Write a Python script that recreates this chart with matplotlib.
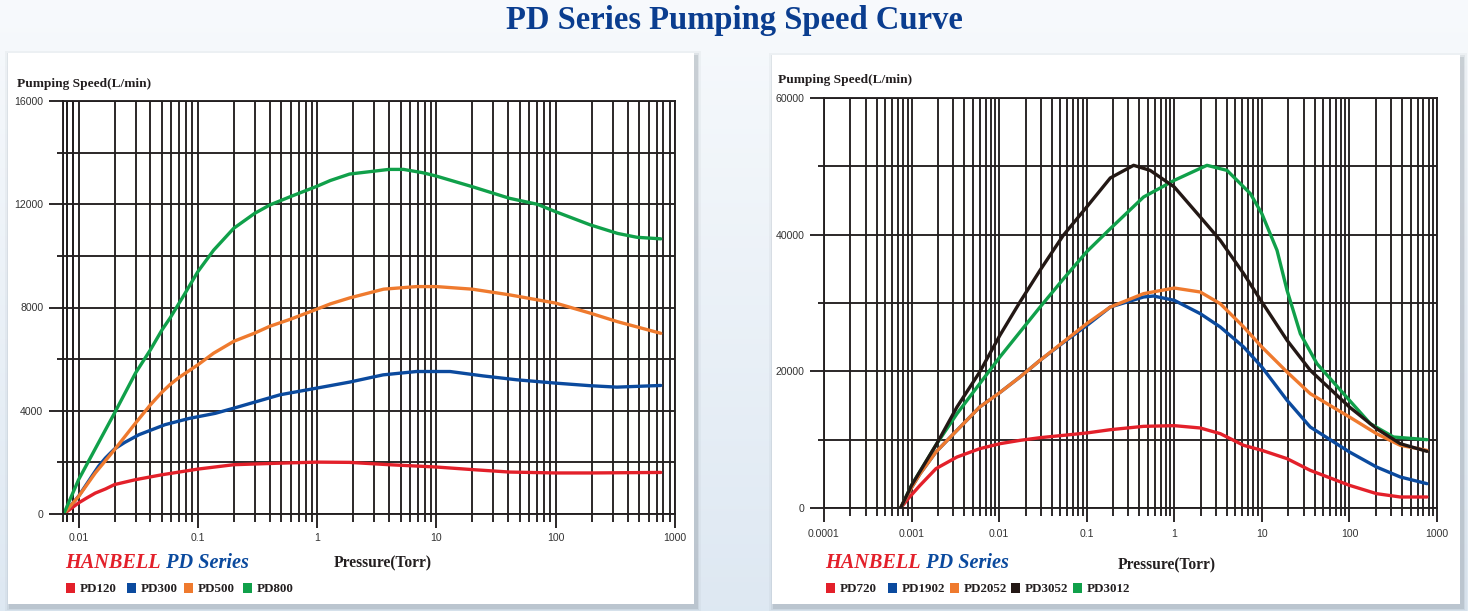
import numpy as np
import matplotlib.pyplot as plt
from matplotlib.patches import Rectangle

# ---------------- data ----------------
# left chart (PD120 / PD300 / PD500 / PD800), pressure in Torr, speed in L/min
pd120_p = [0.0075, 0.01, 0.0117, 0.0138, 0.0168, 0.02, 0.03, 0.05, 0.1, 0.2, 0.49, 1, 1.87, 4, 10, 20, 41,
           100, 195, 760]
pd120_v = [0, 430, 620, 810, 970, 1140, 1330, 1520, 1740, 1910, 1970, 2010, 2000, 1910, 1820, 1720, 1625,
           1590, 1590, 1610]

pd300_p = [0.0075, 0.01, 0.0129, 0.0147, 0.0168, 0.02, 0.0243, 0.032, 0.053, 0.084, 0.14, 0.2, 0.49, 1, 1.87,
           3.57, 6.8, 13, 24.6, 47, 100, 195, 326, 760]
pd300_v = [0, 690, 1460, 1850, 2170, 2520, 2770, 3070, 3460, 3700, 3900, 4100, 4620, 4880, 5110,
           5390, 5520, 5520, 5350, 5200, 5070, 4970, 4915, 4980]

pd500_p = [0.0075, 0.01, 0.0138, 0.02, 0.03, 0.04, 0.05, 0.0586, 0.07, 0.1, 0.1355, 0.2, 0.3, 0.4, 0.6, 1,
           1.29, 1.87, 3.6, 6.8, 10, 20, 41, 100, 195, 330, 760]
pd500_v = [0, 680, 1590, 2490, 3520, 4230, 4720, 5020, 5300, 5780, 6230, 6690, 7010, 7270, 7550, 7940,
           8140, 8370, 8710, 8810, 8810, 8710, 8490, 8170, 7780, 7450, 7000]

pd800_p = [0.0075, 0.01, 0.02, 0.03, 0.04, 0.05, 0.0586, 0.0758, 0.1, 0.1355, 0.2, 0.3, 0.4, 0.6, 1, 1.29,
           1.87, 4, 5.3, 7.7, 10, 20, 41, 70, 100, 195, 330, 480, 760]
pd800_v = [0, 1330, 3910, 5460, 6360, 7130, 7600, 8450, 9390, 10220, 11070, 11650, 11970, 12300, 12700,
           12920, 13170, 13350, 13350, 13220, 13090, 12680, 12230, 12000, 11710, 11200, 10870, 10720, 10660]

# right chart (PD720 / PD1902 / PD2052 / PD3052 / PD3012)
pd720_p = [0.00075, 0.00095, 0.00125, 0.0019, 0.0033, 0.006, 0.0102, 0.0173, 0.0293, 0.054, 0.1, 0.186,
           0.446, 1, 1.98, 3.35, 6.2, 10, 19.4, 35.7, 100, 204, 381, 768]
pd720_v = [0, 1610, 3320, 5760, 7460, 8680, 9410, 9900, 10290, 10630, 10980, 11460,
           11950, 12050, 11710, 10880, 9170, 8440, 7220, 5510, 3320, 2100, 1610, 1610]

pd1902_p = [0.00075, 0.001, 0.00125, 0.0019, 0.0033, 0.006, 0.0102, 0.0173, 0.0293, 0.054, 0.1, 0.186,
            0.446, 0.58, 1, 1.98, 3.35, 6.2, 10, 19.4, 35.7, 100, 204, 381, 768]
pd1902_v = [0, 3000, 5020, 8200, 11370, 14780, 16900, 19170, 21610, 24200, 26700, 29410,
            30880, 31020, 30390, 28440, 26490, 23560, 20630, 15760, 11850, 8200, 6000, 4540, 3560]

pd2052_p = [0.00075, 0.001, 0.00125, 0.0019, 0.0033, 0.006, 0.0102, 0.0173, 0.0293, 0.054, 0.1, 0.186,
            0.446, 1, 1.98, 3.35, 6.2, 10, 19.4, 35.7, 100, 204, 381, 768]
pd2052_v = [0, 3000, 5020, 8200, 11370, 14780, 16900, 19170, 21610, 24290, 26980, 29410,
            31370, 32190, 31610, 29900, 26490, 23560, 19900, 16730, 13320, 10880, 9170, 8440]

pd3052_p = [0.00075, 0.001, 0.00194, 0.0033, 0.006, 0.0102, 0.0173, 0.0293, 0.054, 0.1, 0.186, 0.343,
            0.53, 1, 1.98, 3.35, 6.2, 10, 19.4, 35.7, 100, 204, 381, 768]
pd3052_v = [0, 3320, 9410, 14780, 19900, 25270, 30150, 34780, 39900, 44050, 48300, 50150,
            49410, 46980, 42590, 39170, 34290, 30150, 24540, 20150, 14780, 11610, 9410, 8290]

pd3012_p = [0.00075, 0.001, 0.00194, 0.0033, 0.006, 0.0102, 0.0173, 0.0293, 0.054, 0.1, 0.186, 0.446,
            1, 2.36, 4.0, 7.4, 10, 14.9, 19.4, 27.5, 42.6, 100, 173, 318, 768]
pd3012_v = [0, 3320, 9410, 13800, 18200, 22100, 25760, 29400, 33500, 37500, 40880, 45510,
            47950, 50150, 49410, 46000, 43070, 37710, 31850, 25510, 21120, 15760, 12340, 10390, 10000]

left_names = ["PD120", "PD300", "PD500", "PD800"]
right_names = ["PD720", "PD1902", "PD2052", "PD3052", "PD3012"]

left_xticks = [0.01, 0.1, 1, 10, 100, 1000]
left_xlabels = ["0.01", "0.1", "1", "10", "100", "1000"]
right_xticks = [0.0001, 0.001, 0.01, 0.1, 1, 10, 100, 1000]
right_xlabels = ["0.0001", "0.001", "0.01", "0.1", "1", "10", "100", "1000"]
left_yticks = [0, 4000, 8000, 12000, 16000]
right_yticks = [0, 20000, 40000, 60000]

# ---------------- styling ----------------
RED = "#e3202a"
BLUE = "#0b4a9e"
ORANGE = "#ef7a2e"
GREEN = "#10a04a"
BLACK = "#231815"
GRID = "#231f20"
TITLE_BLUE = "#0a3d8f"
SERIF = "Liberation Serif"
SANS = "Liberation Sans"

W, H = 1468, 611
fig = plt.figure(figsize=(W / 100, H / 100), dpi=100)

# background (pixel coordinates, y downwards)
bg = fig.add_axes([0, 0, 1, 1])
grad = np.linspace(0, 1, 256).reshape(-1, 1)
c_top = np.array([0.97, 0.98, 0.99])
c_bot = np.array([0.87, 0.91, 0.95])
img = c_top + grad[..., None] * (c_bot - c_top)
img = np.repeat(img, 2, axis=1)
bg.imshow(img, extent=[0, W, H, 0], aspect="auto")
bg.set_xlim(0, W)
bg.set_ylim(H, 0)
bg.axis("off")

for (x0, y0, x1, y1) in [(8, 53, 694, 604), (772, 55, 1460, 604)]:
    for off, a in [(5, 0.08), (3, 0.14), (1.5, 0.25)]:
        bg.add_patch(Rectangle((x0 - off + 2, y0 - off + 3), x1 - x0 + 2 * off, y1 - y0 + 2 * off,
                               color="#8a949e", alpha=a, lw=0))
    bg.add_patch(Rectangle((x0, y0), x1 - x0, y1 - y0, color="white", lw=0))

bg.text(734, 20, "PD Series Pumping Speed Curve", ha="center", va="center",
        fontsize=23.5, fontweight="bold", family=SERIF, color=TITLE_BLUE)


def make_axes(box, xlim, ylim, xticks, xlabels, yticks, ystep, minor_extra, xpad):
    x0, y0, x1, y1 = box
    ax = fig.add_axes([x0 / W, 1 - y1 / H, (x1 - x0) / W, (y1 - y0) / H])
    ax.set_xscale("log")
    ax.set_xlim(*xlim)
    ax.set_ylim(*ylim)
    ax.set_xticks(xticks)
    ax.set_xticklabels(xlabels)
    minors = list(minor_extra)
    for n in range(-4, 3):
        for k in range(2, 10):
            v = k * 10.0 ** n
            if xlim[0] < v < xlim[1]:
                minors.append(v)
    ax.set_xticks(minors, minor=True)
    ax.set_yticks(yticks)
    ax.set_yticklabels([str(t) for t in yticks])
    ax.set_yticks([t + ystep for t in yticks[:-1]], minor=True)
    ax.xaxis.set_minor_formatter(plt.NullFormatter())
    ax.grid(True, which="both", color=GRID, lw=1.35)
    ax.set_axisbelow(True)
    for s in ax.spines.values():
        s.set_color(GRID)
        s.set_linewidth(1.35)
    ax.tick_params(axis="x", which="major", direction="out", length=10, width=1.35, color=GRID, pad=xpad)
    ax.tick_params(axis="x", which="minor", direction="out", length=5.5, width=1.35, color=GRID)
    ax.tick_params(axis="y", which="major", direction="out", length=9.8, width=1.35, color=GRID, pad=4.5)
    ax.tick_params(axis="y", which="minor", direction="out", length=4.6, width=1.35, color=GRID)
    for lab in ax.get_xticklabels() + ax.get_yticklabels():
        lab.set_family(SANS)
        lab.set_fontsize(7.6)
        lab.set_color("#333333")
    ax.patch.set_alpha(0)
    return ax


axl = make_axes((63, 101, 675, 514), (0.0074, 1000), (0, 16000), left_xticks, left_xlabels,
                left_yticks, 2000, [0.0074, 0.008, 0.009], 3.5)
axr = make_axes((824, 98, 1437, 508), (0.0001, 1000), (0, 60000), right_xticks, right_xlabels,
                right_yticks, 10000, [], 5)

LW = 2.4
style = dict(lw=LW, solid_capstyle="round", solid_joinstyle="round")
axl.plot(pd120_p, pd120_v, color=RED, **style)
axl.plot(pd300_p, pd300_v, color=BLUE, **style)
axl.plot(pd500_p, pd500_v, color=ORANGE, **style)
axl.plot(pd800_p, pd800_v, color=GREEN, **style)

axr.plot(pd720_p, pd720_v, color=RED, **style)
axr.plot(pd1902_p, pd1902_v, color=BLUE, **style)
axr.plot(pd3012_p, pd3012_v, color=GREEN, **style)
axr.plot(pd2052_p, pd2052_v, color=ORANGE, **style)
axr.plot(pd3052_p, pd3052_v, color=BLACK, **style)

# axis titles, brand line, legends
for x, y in [(17, 84), (778, 80)]:
    bg.text(x, y, "Pumping Speed(L/min)", ha="left", va="center", fontsize=9.6,
            fontweight="bold", family=SERIF, color="#231f20")
for x, y in [(383, 563), (1167, 565)]:
    bg.text(x, y, "Pressure(Torr)", ha="center", va="center", fontsize=11.2,
            fontweight="bold", family=SERIF, color="#231f20")
for x, y in [(65, 563), (825, 563)]:
    t = bg.text(x, y, "HANBELL", ha="left", va="center", fontsize=14.6, fontweight="bold",
                style="italic", family=SERIF, color=RED)
    bg.annotate(" PD Series", xy=(1, 0), xycoords=t, ha="left", va="bottom", fontsize=14.6,
                fontweight="bold", style="italic", family=SERIF, color=BLUE)

left_sq = [66, 127, 184, 243]
right_sq = [826, 888, 950, 1011, 1073]
for names, cols, xs in [(left_names, [RED, BLUE, ORANGE, GREEN], left_sq),
                        (right_names, [RED, BLUE, ORANGE, BLACK, GREEN], right_sq)]:
    for name, c, x in zip(names, cols, xs):
        bg.add_patch(Rectangle((x, 583), 9, 10, color=c, lw=0))
        bg.text(x + 14, 588.5, name, ha="left", va="center", fontsize=9.4, fontweight="bold",
                family=SERIF, color="#231f20")

fig.savefig("out.png", dpi=100)
